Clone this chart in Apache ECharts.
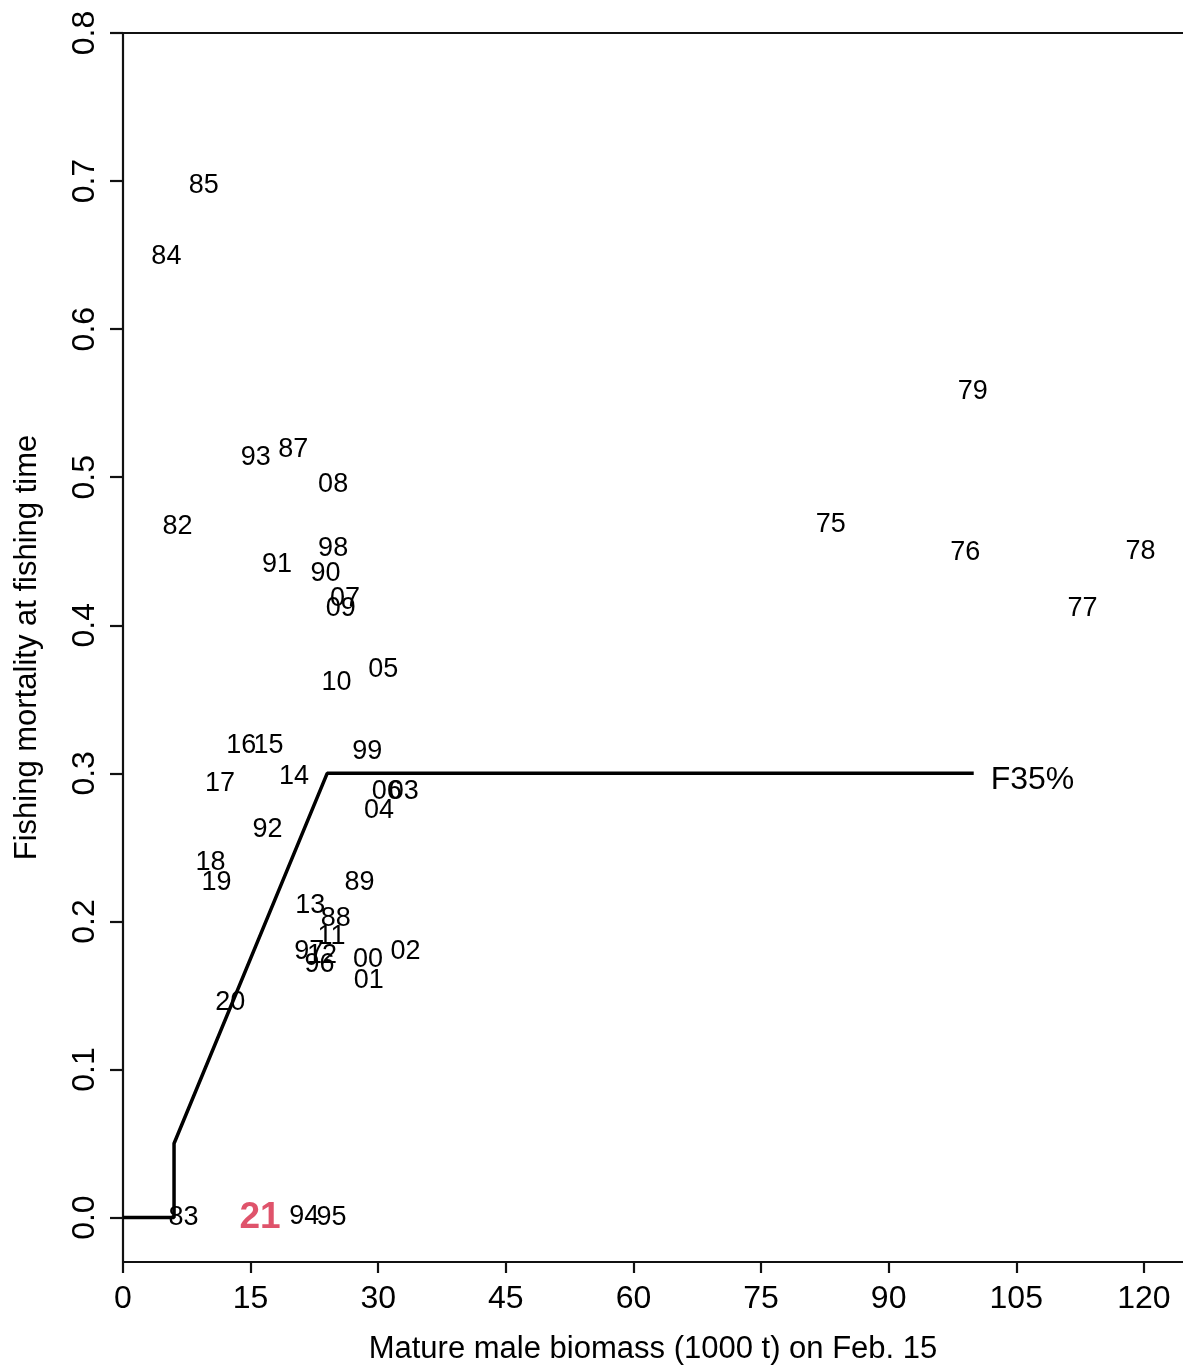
<!DOCTYPE html>
<html>
<head>
<meta charset="utf-8">
<script src="https://cdn.jsdelivr.net/npm/echarts@6/dist/echarts.min.js"></script>
<style>
html,body{margin:0;padding:0;background:#fff;}
#chart{width:1183px;height:1367px;}
</style>
</head>
<body>
<div id="chart"></div>
<script>
// Year labels (last two digits), mature male biomass (1000 t), fishing mortality
const years = ['75','76','77','78','79','82','83','84','85','87','88','89','90','91','92','93','94','95','96','97','98','99',
  '00','01','02','03','04','05','06','07','08','09','10','11','12','13','14','15','16','17','18','19','20','21'];
const biomass = [83.2,99.0,112.8,119.6,99.9,6.4,7.1,5.1,9.5,20.0,25.0,27.8,23.8,18.1,17.0,15.6,21.3,24.5,23.1,21.9,24.7,28.7,
  28.8,28.9,33.2,33.0,30.1,30.6,31.0,26.1,24.7,25.6,25.1,24.5,23.4,22.0,20.1,17.1,13.9,11.4,10.3,11.0,12.6,16.1];
const fishingMortality = [0.468,0.449,0.411,0.450,0.558,0.467,0.0,0.649,0.697,0.519,0.202,0.226,0.435,0.441,0.262,0.513,0.001,0.0,0.171,0.180,0.452,0.315,
  0.174,0.160,0.180,0.288,0.275,0.370,0.288,0.418,0.495,0.411,0.361,0.190,0.177,0.211,0.298,0.319,0.319,0.293,0.240,0.226,0.145,0.0];
const highlightYear = '21';

// Harvest control rule
const ruleBiomass = [0, 6, 6, 24, 100];
const ruleF = [0, 0, 0.05, 0.3, 0.3];
const ruleLabel = 'F35%';

// Axis ticks
const xTicks = [0, 15, 30, 45, 60, 75, 90, 105, 120];
const yTicks = [0, 0.1, 0.2, 0.3, 0.4, 0.5, 0.6, 0.7, 0.8];
const xTitle = 'Mature male biomass (1000 t) on Feb. 15';
const yTitle = 'Fishing mortality at fishing time';

const FONT = "'Liberation Sans', Arial, sans-serif";

const pointData = years.map((y, i) => {
  const item = { value: [biomass[i], fishingMortality[i]], name: y };
  if (y === highlightYear) {
    item.label = { color: '#DF536B', fontWeight: 'bold', fontSize: 37 };
  }
  return item;
});

const chart = echarts.init(document.getElementById('chart'), null, { renderer: 'canvas' });
chart.setOption({
  animation: false,
  backgroundColor: '#ffffff',
  grid: { left: 123, right: 0, top: 33, bottom: 105, containLabel: false, outerBoundsMode: 'none' },
  xAxis: [{
    type: 'value', min: 0, max: 124.6, position: 'bottom',
    name: xTitle, nameLocation: 'middle', nameGap: 72,
    nameTextStyle: { fontFamily: FONT, fontSize: 31, color: '#000' },
    axisLine: { show: true, onZero: false, lineStyle: { color: '#111', width: 2.2 } },
    axisTick: { show: true, length: 11, customValues: xTicks, lineStyle: { color: '#111', width: 2.2 } },
    axisLabel: { show: true, customValues: xTicks, margin: 21, fontFamily: FONT, fontSize: 32, color: '#000',
      formatter: v => String(v) },
    splitLine: { show: false }
  }, {
    type: 'value', min: 0, max: 124.6, position: 'top',
    axisLine: { show: true, onZero: false, lineStyle: { color: '#111', width: 2.2 } },
    axisTick: { show: false }, axisLabel: { show: false }, splitLine: { show: false }
  }],
  yAxis: [{
    type: 'value', min: -0.03, max: 0.8, position: 'left',
    name: yTitle, nameLocation: 'middle', nameGap: 80, nameRotate: 90,
    nameTextStyle: { fontFamily: FONT, fontSize: 31, color: '#000' },
    axisLine: { show: true, onZero: false, lineStyle: { color: '#111', width: 2.2 } },
    axisTick: { show: true, length: 13, customValues: yTicks, lineStyle: { color: '#111', width: 2.2 } },
    axisLabel: { show: true, customValues: yTicks, rotate: 90, margin: 22, fontFamily: FONT, fontSize: 32, color: '#000',
      formatter: v => Number(v).toFixed(1) },
    splitLine: { show: false }
  }],
  series: [{
    type: 'line',
    data: ruleBiomass.map((b, i) => [b, ruleF[i]]),
    symbol: 'none',
    silent: true,
    lineStyle: { color: '#000', width: 3.5 },
    endLabel: { show: true, formatter: ruleLabel, distance: 14, offset: [3, 7],
      fontFamily: FONT, fontSize: 32, color: '#000' },
    z: 3
  }, {
    type: 'scatter',
    data: pointData,
    symbolSize: 1,
    silent: true,
    itemStyle: { color: 'rgba(0,0,0,0)', opacity: 1 },
    label: { show: true, position: 'inside', formatter: p => p.name, align: 'center', verticalAlign: 'middle',
      fontFamily: FONT, fontSize: 27, color: '#000', textBorderWidth: 0 },
    labelLayout: { hideOverlap: false },
    z: 4
  }]
});
</script>
</body>
</html>
